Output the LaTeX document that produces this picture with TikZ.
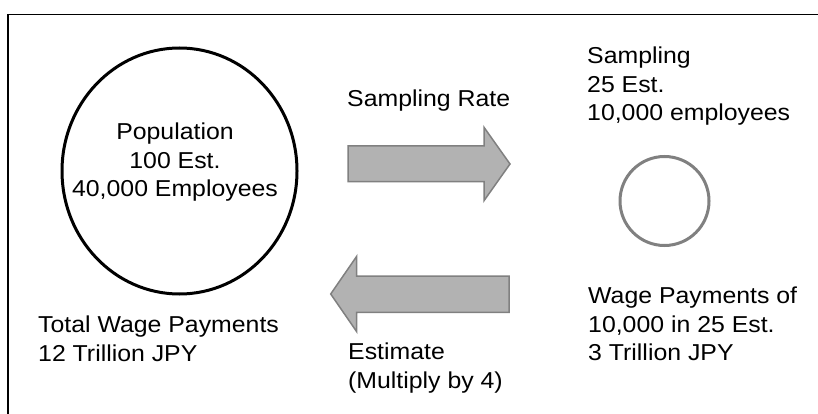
\documentclass[tikz,border=0pt]{standalone}
\usepackage{fontspec}
\setmainfont{Liberation Sans}[FakeStretch=1.08]
\usetikzlibrary{positioning,calc,shapes.geometric}
\definecolor{arrowfill}{RGB}{178,178,178}
\definecolor{arrowline}{RGB}{128,128,128}
\definecolor{ringgray}{RGB}{128,128,128}

\begin{document}
\begin{tikzpicture}[
  x=1pt, y=-1pt,
  txt/.style={inner sep=0pt, font=\fontsize{23}{28.5}\selectfont},
  blockarrow/.style={draw=arrowline, fill=arrowfill, line width=1.5pt, line join=miter},
]
\useasboundingbox (0,0) rectangle (818,414);
\draw[line width=1.5pt] (818,14.5) -- (8,14.5) -- (8,414);

\node[draw, ellipse, line width=3pt, minimum width=235pt, minimum height=246pt, inner sep=0pt] (pop) at (179.5,171) {};
\node[txt, align=center, anchor=north] (poptext) at (175,122.7) {Population\\100 Est.\\40,000 Employees};
\node[txt, align=left, anchor=north west] (total) at (38,316) {Total Wage Payments\\12 Trillion JPY};

\node[draw=ringgray, circle, line width=3pt, minimum size=89pt, inner sep=0pt] (sample) at (664.5,201) {};
\node[txt, align=left, anchor=north west] (sampletext) at (587,46.7) {Sampling\\25 Est.\\10,000 employees};
\node[txt, align=left, anchor=north west] (wage) at (588,287) {Wage Payments of\\10,000 in 25 Est.\\3 Trillion JPY};

\node[txt, anchor=north west] (rate) at (347,90) {Sampling Rate};
\node[txt, align=left, anchor=north west] (estimate) at (348,343) {Estimate\\(Multiply by 4)};

\draw[blockarrow] (348,146) -- (484,146) -- (484,127.3) -- (510,164) -- (484,200.7) -- (484,181.7) -- (348,181.7) -- cycle;
\draw[blockarrow] (509,276) -- (356.7,276) -- (356.7,256.3) -- (330.7,294) -- (356.7,331.7) -- (356.7,312.3) -- (509,312.3) -- cycle;
\end{tikzpicture}
\end{document}
